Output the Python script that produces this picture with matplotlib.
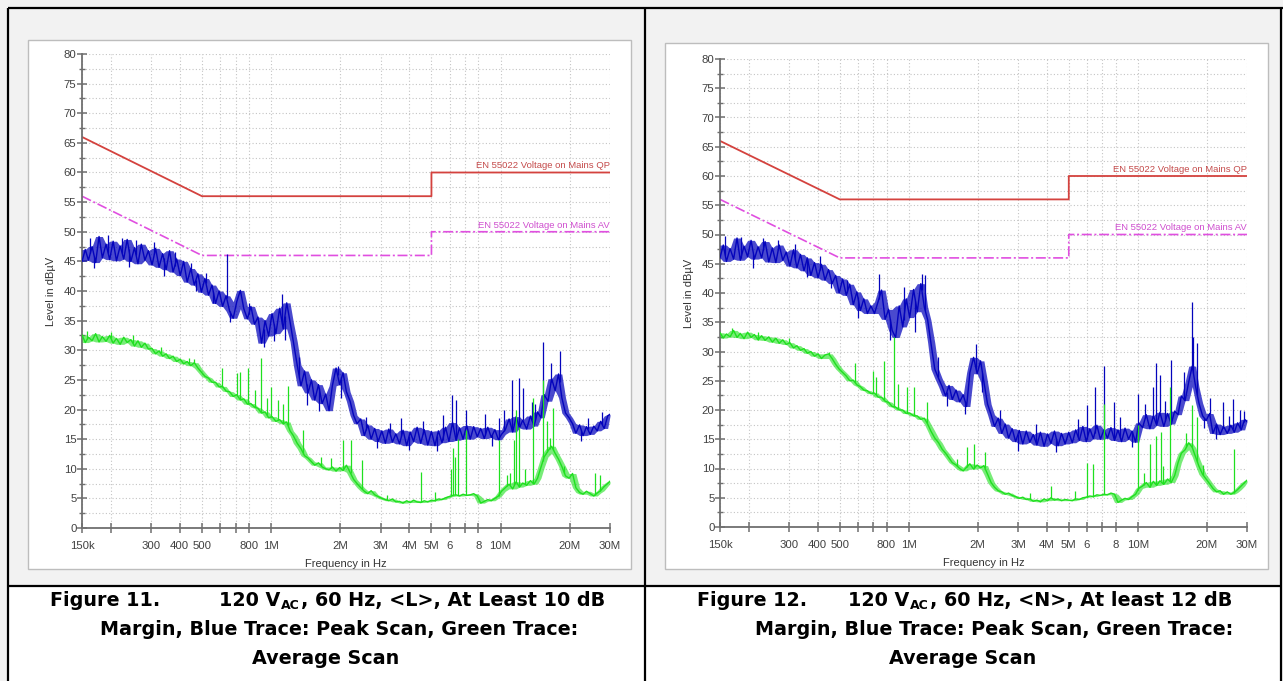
import numpy as np
import matplotlib.pyplot as plt
from matplotlib.patches import Rectangle
from matplotlib.ticker import MultipleLocator, NullLocator, FixedLocator, FixedFormatter

W, H = 1283, 681

# receiver sweep points in MHz (same for both scans)
FREQ_MHZ = [
    0.150, 0.155, 0.160, 0.166, 0.172, 0.178, 0.184, 0.191, 0.198, 0.205,
    0.212, 0.220, 0.228, 0.236, 0.245, 0.254, 0.263, 0.272, 0.282, 0.292,
    0.303, 0.314, 0.325, 0.337, 0.349, 0.361, 0.374, 0.388, 0.402, 0.416,
    0.431, 0.447, 0.463, 0.480, 0.497, 0.515, 0.534, 0.553, 0.573, 0.594,
    0.615, 0.637, 0.660, 0.684, 0.709, 0.735, 0.761, 0.789, 0.817, 0.847,
    0.877, 0.909, 0.942, 0.976, 1.01, 1.05, 1.09, 1.13, 1.17, 1.21,
    1.25, 1.30, 1.35, 1.40, 1.45, 1.50, 1.55, 1.61, 1.67, 1.73,
    1.79, 1.85, 1.92, 1.99, 2.06, 2.13, 2.21, 2.29, 2.37, 2.46,
    2.55, 2.64, 2.73, 2.83, 2.93, 3.04, 3.15, 3.26, 3.38, 3.50,
    3.63, 3.76, 3.90, 4.04, 4.18, 4.33, 4.49, 4.65, 4.82, 5.00,
    5.18, 5.36, 5.56, 5.76, 5.96, 6.18, 6.40, 6.63, 6.87, 7.12,
    7.38, 7.64, 7.92, 8.20, 8.50, 8.80, 9.12, 9.45, 9.79, 10.1,
    10.5, 10.9, 11.3, 11.7, 12.1, 12.5, 13.0, 13.5, 14.0, 14.5,
    15.0, 15.5, 16.1, 16.7, 17.3, 17.9, 18.5, 19.2, 19.9, 20.6,
    21.3, 22.1, 22.9, 23.7, 24.6, 25.5, 26.4, 27.3, 28.3, 29.3,
    30.0,
]

# EN 55022 class B limits
LIMIT_FREQ = [0.15, 0.5, 5.0, 5.0, 30.0]
QP_LIMIT = [66, 56, 56, 60, 60]
AV_LIMIT = [56, 46, 46, 50, 50]

# line L, peak detector (dBuV)
L_PEAK = [
    45.0, 47.0, 45.2, 47.5, 44.8, 49.2, 45.6, 47.9, 45.3, 48.4,
    45.1, 47.6, 45.4, 48.7, 45.0, 47.3, 44.6, 47.9, 45.2, 46.8,
    44.4, 47.2, 44.0, 46.3, 43.6, 46.8, 43.2, 45.4, 42.6, 45.0,
    41.5, 43.8, 41.0, 42.9, 39.8, 42.1, 39.3, 41.0, 37.9, 40.0,
    37.4, 39.2, 36.6, 35.4, 38.2, 40.1, 37.0, 35.3, 37.4, 34.4,
    35.6, 31.2, 35.0, 32.4, 36.2, 32.8, 37.1, 33.6, 38.0, 34.8,
    31.5, 27.5, 24.0, 26.5, 22.8, 25.0, 21.6, 24.2, 21.0, 22.6,
    19.8, 24.0, 27.0, 24.2, 26.2, 23.0, 21.4, 19.0, 17.6, 18.4,
    15.6, 17.4, 15.0, 16.8, 14.6, 16.4, 14.3, 16.7, 14.5, 15.9,
    14.2, 16.5, 13.9, 16.2, 14.6, 17.0, 14.3, 16.6, 14.0, 16.3,
    13.9, 16.4, 14.4, 17.0, 14.6, 17.8, 14.8, 16.9, 15.0, 17.3,
    15.0, 17.1, 15.4, 16.8, 15.1, 17.0, 15.3, 16.6, 14.9, 15.8,
    16.6, 18.4, 16.2, 18.8, 16.9, 18.2, 16.7, 18.9, 17.2, 19.6,
    18.6, 22.5, 21.4, 25.2, 23.2, 26.0, 22.0, 19.4, 18.6, 17.6,
    16.0, 17.4, 15.6, 17.1, 15.8, 17.2, 16.4, 18.0, 16.8, 18.9,
    19.2,
]
# narrow excursions of the L peak scan (up and down)
L_PEAK_SPIKE_F = [0.64, 1.12, 3.7, 6.15, 6.4, 7.1, 9.8, 11.2, 12.0, 12.5, 13.7, 15.3, 16.6, 18.1,
                  0.163, 0.195, 0.224, 0.258, 0.17, 0.24, 0.31, 0.34, 0.38, 0.45,
                  0.47, 0.52, 0.56, 0.66, 0.80, 0.93, 1.03, 1.15, 1.33, 1.43,
                  1.62, 1.95, 2.02, 2.60, 2.90, 3.30, 4.00, 4.60, 5.30, 5.60,
                  8.60, 9.20, 10.4, 14.2, 22.5, 24.0, 27.6]
L_PEAK_SPIKE_DB = [46.3, 39.5, 18.6, 22.4, 21.6, 19.9, 18.6, 25.0, 25.3, 23.6, 21.3, 31.4, 27.8, 29.8,
                   49.0, 49.5, 49.0, 48.6, 43.8, 44.0, 48.2, 42.5, 46.5, 44.8,
                   40.0, 43.0, 38.0, 34.8, 38.0, 30.5, 31.5, 31.8, 28.8, 20.8,
                   19.8, 27.4, 22.0, 18.8, 13.5, 17.8, 13.2, 18.0, 13.0, 19.0,
                   19.2, 13.8, 20.0, 21.0, 14.6, 18.5, 19.5]

# line L, average detector (dBuV)
L_AVG = [
    32.6, 31.3, 32.2, 31.6, 32.8, 31.4, 32.3, 31.5, 32.5, 31.2,
    32.0, 31.0, 32.2, 31.3, 31.8, 30.7, 31.6, 30.5, 31.2, 30.2,
    30.3, 29.4, 29.9, 29.0, 29.4, 28.6, 29.0, 28.1, 28.5, 27.7,
    28.1, 27.4, 27.9, 27.0, 26.3, 25.6, 25.3, 24.6, 24.6, 23.8,
    23.9, 23.1, 23.0, 22.2, 22.5, 21.6, 21.8, 20.9, 21.0, 20.4,
    20.2, 19.4, 19.6, 18.6, 18.8, 18.0, 18.3, 17.6, 17.9, 16.4,
    15.6, 14.3, 13.4, 12.2, 11.8, 11.2, 10.6, 11.0, 10.3, 10.0,
    9.8, 10.3, 9.6, 10.2, 9.7, 10.6, 9.4, 8.2, 7.5, 6.8,
    6.2, 5.8, 6.3, 5.6, 5.3, 5.0, 4.8, 4.6, 4.9, 4.4,
    4.5, 4.2, 4.6, 4.3, 4.7, 4.4, 4.3, 4.6, 4.4, 4.7,
    4.6, 4.9, 4.8, 5.1, 5.3, 5.5, 5.6, 5.4, 5.7, 5.5,
    5.6, 5.8, 5.4, 4.2, 4.5, 4.8, 4.6, 5.0, 5.4, 6.2,
    6.8, 7.4, 6.6, 7.8, 6.9, 7.6, 7.2, 8.0, 7.4, 8.4,
    10.2, 12.0, 13.0, 13.8, 12.6, 11.6, 10.4, 8.8, 8.4, 9.2,
    6.8, 6.0, 5.7, 6.2, 5.8, 5.4, 5.9, 6.3, 7.0, 7.5,
    7.9,
]
L_AVG_SPIKE_F = [0.61, 0.71, 0.73, 0.79, 0.85, 0.90, 0.96, 1.0, 1.07, 1.13,
                 1.19, 1.38, 1.83, 2.05, 2.22, 2.5, 4.5, 6.1, 6.2, 6.35,
                 6.5, 7.1, 9.8, 11.0, 11.5, 11.7, 12.0, 13.8, 15.3, 16.0,
                 17.0, 25.8, 27.0,
                 0.158, 0.20, 0.25, 0.33, 0.44, 0.46, 1.65, 3.20, 5.20, 10.7,
                 12.8, 16.4, 19.0]
L_AVG_SPIKE_DB = [27.0, 26.1, 26.3, 27.0, 23.3, 28.7, 21.9, 23.8, 21.6, 21.0,
                  24.0, 16.5, 11.8, 14.9, 14.9, 11.5, 9.5, 10.0, 13.5, 12.0,
                  15.0, 16.5, 14.9, 9.3, 14.9, 20.0, 17.0, 22.0, 25.0, 18.0,
                  20.2, 9.3, 9.0,
                  33.2, 33.0, 32.6, 30.6, 28.7, 28.6, 12.0, 5.6, 6.0, 9.0,
                  10.0, 15.2, 10.5]

# line N, peak detector (dBuV)
N_PEAK = [
    46.0, 48.2, 45.4, 47.6, 45.8, 49.4, 45.6, 48.0, 46.2, 49.0,
    45.8, 47.9, 46.0, 48.8, 45.3, 47.7, 45.2, 48.2, 45.6, 47.0,
    44.6, 47.4, 44.3, 46.6, 43.8, 46.0, 43.0, 45.2, 42.6, 44.9,
    42.2, 44.0, 41.6, 43.0, 40.0, 42.4, 39.6, 41.5, 38.0, 40.2,
    37.0, 39.0, 36.5, 37.8, 36.5, 38.5, 40.5, 35.5, 37.2, 33.6,
    32.4, 37.8, 34.2, 39.0, 35.8, 40.6, 36.8, 41.6, 37.6, 35.4,
    31.5, 27.0, 25.4, 24.0, 22.4, 24.2, 21.8, 23.4, 21.4, 22.6,
    20.6, 26.4, 29.0, 26.2, 28.4, 24.8, 21.0, 19.2, 17.2, 18.6,
    16.0, 17.6, 15.2, 16.8, 14.6, 16.5, 14.2, 16.4, 14.5, 15.8,
    14.0, 16.2, 13.8, 15.9, 14.3, 16.4, 13.9, 16.0, 14.2, 16.2,
    14.4, 16.6, 14.8, 17.2, 14.6, 16.8, 15.1, 17.4, 15.0, 16.6,
    15.2, 17.0, 14.8, 16.6, 14.6, 16.9, 15.0, 16.4, 14.5, 17.8,
    17.0, 19.2, 16.8, 19.0, 17.4, 19.6, 17.2, 19.4, 17.6, 19.8,
    19.2, 22.4, 21.6, 24.8, 27.5, 24.0, 21.2, 19.0, 18.2, 19.4,
    16.0, 17.6, 15.8, 17.2, 16.0, 17.4, 16.2, 17.8, 16.6, 18.4,
    18.0,
]
N_PEAK_SPIKE_F = [0.74, 1.14, 6.0, 6.5, 7.1, 7.9, 10.0, 11.7, 12.0, 12.5,
                  14.0, 17.2, 17.5, 18.2, 20.6, 23.5, 26.0, 28.0,
                  0.158, 0.185, 0.21, 0.232, 0.27, 0.32, 0.36, 0.41, 0.46, 0.54,
                  0.60, 0.83, 0.95, 1.07, 1.18, 1.34, 1.47, 1.76, 1.97, 2.10,
                  2.50, 3.00, 3.60, 4.40, 5.50, 8.40, 9.40, 10.8, 13.2, 16.0,
                  19.5, 22.0, 25.0, 29.0]
N_PEAK_SPIKE_DB = [43.3, 43.3, 20.8, 24.0, 27.6, 21.4, 22.7, 24.0, 28.0, 26.0,
                   28.6, 38.4, 32.5, 31.5, 22.0, 21.4, 21.8, 20.0,
                   49.8, 49.6, 44.2, 49.4, 49.0, 48.3, 42.8, 46.4, 40.8, 42.2,
                   35.8, 32.0, 41.0, 33.4, 43.0, 29.0, 20.6, 19.4, 31.2, 23.0,
                   20.0, 13.0, 17.6, 12.9, 18.4, 18.8, 13.6, 21.0, 21.5, 26.5,
                   17.0, 15.0, 19.0, 19.8]

# line N, average detector (dBuV)
N_AVG = [
    33.2, 32.3, 33.0, 32.5, 33.6, 32.4, 33.1, 32.2, 33.3, 32.4,
    32.9, 32.0, 32.7, 31.9, 32.5, 31.6, 32.3, 31.4, 32.0, 31.2,
    31.5, 30.6, 31.0, 30.2, 30.5, 29.7, 30.0, 29.2, 29.6, 28.8,
    29.4, 29.6, 28.8, 27.8, 27.0, 26.4, 25.8, 25.0, 25.1, 24.3,
    24.0, 23.4, 23.3, 22.8, 22.9, 22.2, 22.2, 21.5, 21.3, 20.6,
    20.5, 20.0, 20.0, 19.4, 19.5, 19.0, 19.0, 18.4, 18.6, 17.6,
    16.4, 15.2, 14.4, 13.3, 12.6, 11.8, 11.0, 10.6, 10.0, 9.6,
    10.2, 10.8, 9.9, 10.6, 10.1, 10.5, 9.0, 7.6, 6.8, 6.2,
    6.0, 5.6, 5.8, 5.4, 5.2, 4.9, 5.1, 4.7, 4.8, 4.4,
    4.6, 4.3, 4.8, 4.5, 5.0, 4.6, 4.8, 4.5, 4.7, 4.6,
    4.5, 4.8, 4.7, 5.0, 5.1, 5.3, 5.2, 5.5, 5.4, 5.6,
    5.5, 5.8, 5.6, 4.2, 4.6, 4.9, 4.7, 5.2, 5.6, 6.6,
    7.0, 7.6, 6.8, 7.8, 7.1, 7.9, 7.3, 8.2, 7.6, 8.8,
    11.0, 12.6, 13.2, 14.4, 13.6, 12.0, 10.4, 9.0, 8.2, 7.4,
    6.6, 6.0, 6.2, 5.6, 6.0, 5.6, 5.9, 6.4, 7.0, 7.6,
    8.0,
]
N_AVG_SPIKE_F = [0.58, 0.70, 0.72, 0.78, 0.86, 0.90, 0.98, 1.05, 1.20, 1.80,
                 1.93, 2.15, 4.2, 6.0, 6.4, 7.1, 10.0, 11.3, 12.0, 12.6,
                 13.8, 17.3, 18.2, 26.3,
                 0.17, 0.22, 0.30, 0.45, 1.62, 3.40, 5.30, 10.6, 12.9, 16.3,
                 19.3]
N_AVG_SPIKE_DB = [28.0, 26.7, 25.7, 28.3, 32.5, 24.4, 24.0, 24.0, 21.4, 13.6,
                  14.2, 12.9, 7.0, 11.0, 10.7, 21.1, 17.5, 14.2, 15.5, 16.2,
                  24.0, 20.8, 18.8, 13.3,
                  34.0, 33.4, 32.3, 30.0, 11.6, 5.8, 6.1, 9.2, 10.4, 16.0,
                  10.6]

XTICKS = [0.15, 0.2, 0.3, 0.4, 0.5, 0.6, 0.7, 0.8, 1, 2, 3, 4, 5, 6, 7, 8, 10, 20, 30]
XLABELS = ['150k', '', '300', '400', '500', '', '', '800', '1M', '2M', '3M',
           '4M', '5M', '6', '', '8', '10M', '20M', '30M']

BLUE = '#0404bc'
GREEN = '#1fe01f'
QP_COLOR = '#d4423e'
AV_COLOR = '#e04fe0'
AXIS_GRAY = '#6f6f6f'
FONT = 'Liberation Sans'
CAP_FONT = 'DejaVu Sans'

fig = plt.figure(figsize=(W / 100, H / 100), dpi=100, facecolor='#f2f2f2')

# page background: frame, caption cells, screenshot panels (pixel coordinates)
bg = fig.add_axes([0, 0, 1, 1])
bg.set_xlim(0, W)
bg.set_ylim(H, 0)
bg.axis('off')
bg.add_patch(Rectangle((8, 586), 1273, 95, facecolor='white', edgecolor='none'))
bg.add_patch(Rectangle((28, 40), 603, 529, facecolor='white', edgecolor='#bdbdbd', lw=1.0))
bg.add_patch(Rectangle((665, 43), 603, 526, facecolor='white', edgecolor='#bdbdbd', lw=1.0))
for xs, ys in [([8, W], [8, 8]), ([8, 1281], [586, 586]), ([8, 8], [8, H]),
               ([645, 645], [8, H]), ([1281, 1281], [8, H])]:
    bg.plot(xs, ys, color='black', lw=1.6, solid_capstyle='butt')


def px_axes(x0, y0, x1, y1):
    return fig.add_axes([x0 / W, 1 - y1 / H, (x1 - x0) / W, (y1 - y0) / H])


def spread(levels):
    # lowest / highest reading among neighbouring sweep points
    v = np.asarray(levels, dtype=float)
    pad = np.r_[v[0], v, v[-1]]
    trio = np.vstack([pad[:-2], pad[1:-1], pad[2:]])
    return trio.min(axis=0), trio.max(axis=0)


def draw_scan(ax, f, levels, spike_f, spike_db, color, z, haze):
    lo, hi = spread(levels)
    ax.fill_between(f, lo, hi, color=color, alpha=haze, lw=0, zorder=z)
    ax.plot(f, levels, color=color, lw=1.0, zorder=z)
    base = np.interp(np.log10(spike_f), np.log10(f), levels)
    ax.vlines(spike_f, base, spike_db, color=color, lw=0.9, zorder=z)


def draw_panel(ax, peak, avg, pk_f, pk_db, av_f, av_db):
    f = np.array(FREQ_MHZ)
    ax.set_facecolor('none')
    ax.set_xscale('log')
    ax.set_xlim(0.15, 30)
    ax.set_ylim(0, 80)

    ax.xaxis.set_major_locator(FixedLocator(XTICKS))
    ax.xaxis.set_major_formatter(FixedFormatter(XLABELS))
    ax.xaxis.set_minor_locator(NullLocator())
    ax.yaxis.set_major_locator(MultipleLocator(5))
    ax.yaxis.set_minor_locator(MultipleLocator(2.5))

    for side in ['top', 'right']:
        ax.spines[side].set_visible(False)
    for side in ['left', 'bottom']:
        ax.spines[side].set_color(AXIS_GRAY)
        ax.spines[side].set_linewidth(1.3)
    ax.tick_params(which='major', direction='inout', length=7, width=1.1, color=AXIS_GRAY,
                   labelsize=8.2, labelcolor='#404040')
    ax.tick_params(axis='y', which='minor', direction='inout', length=5, width=1.0,
                   color=AXIS_GRAY)
    ax.tick_params(axis='y', which='major', pad=0.5)
    ax.tick_params(axis='x', which='major', pad=6)
    for lab in ax.get_xticklabels() + ax.get_yticklabels():
        lab.set_family(FONT)

    ax.grid(True, axis='y', which='both', color='#c4c4c4', lw=0.8, ls=(0, (1, 2)))
    ax.grid(True, axis='x', which='major', color='#c4c4c4', lw=0.8, ls=(0, (1, 2)))
    ax.set_axisbelow(True)

    ax.plot(LIMIT_FREQ, QP_LIMIT, color=QP_COLOR, lw=1.3, zorder=2)
    ax.plot(LIMIT_FREQ, AV_LIMIT, color=AV_COLOR, lw=1.2, dashes=(6, 1.6, 1.2, 1.6), zorder=2)
    ax.annotate('EN 55022 Voltage on Mains QP', xy=(30, QP_LIMIT[-1]), xytext=(0, 1.5),
                textcoords='offset points', ha='right', va='bottom',
                fontsize=6.8, color='#c44a4a', family=FONT)
    ax.annotate('EN 55022 Voltage on Mains AV', xy=(30, AV_LIMIT[-1]), xytext=(0, 1.5),
                textcoords='offset points', ha='right', va='bottom',
                fontsize=6.8, color='#cf4fcf', family=FONT)

    draw_scan(ax, f, peak, pk_f, pk_db, BLUE, 3, 0.72)   # peak scan
    draw_scan(ax, f, avg, av_f, av_db, GREEN, 4, 0.6)    # average scan

    ax.text(-0.058, 0.5, 'Level in dBµV', rotation=90, ha='center', va='center',
            transform=ax.transAxes, fontsize=8, color='#333333', family=FONT)
    ax.text(0.5, -0.066, 'Frequency in Hz', ha='center', va='top',
            transform=ax.transAxes, fontsize=8, color='#333333', family=FONT)


ax_l = px_axes(82, 54, 610, 528)
draw_panel(ax_l, L_PEAK, L_AVG, L_PEAK_SPIKE_F, L_PEAK_SPIKE_DB, L_AVG_SPIKE_F, L_AVG_SPIKE_DB)
ax_n = px_axes(720, 59, 1247, 527)
draw_panel(ax_n, N_PEAK, N_AVG, N_PEAK_SPIKE_F, N_PEAK_SPIKE_DB, N_AVG_SPIKE_F, N_AVG_SPIKE_DB)

# captions, written run by run so that the subscript sits inline
renderer = fig.canvas.get_renderer()
CAP_SIZE = 13.8
SUB_SIZE = 9.0


def caption(x, y, runs, align='left'):
    items = []
    for txt, size, dy in runs:
        t = bg.text(0, y + dy, txt, fontsize=size, fontweight='bold', family=CAP_FONT,
                    va='baseline', ha='left', color='black')
        items.append(t)
    widths = [t.get_window_extent(renderer).width for t in items]
    total = sum(widths)
    if align == 'right':
        x = x - total
    elif align == 'center':
        x = x - total / 2
    for t, w in zip(items, widths):
        t.set_x(x)
        x += w + 1


caption(50, 606, [('Figure 11.', CAP_SIZE, 0)])
caption(603, 606, [('120 V', CAP_SIZE, 0), ('AC', SUB_SIZE, 3),
                   (', 60 Hz, <L>, At Least 10 dB', CAP_SIZE, 0)], align='right')
caption(100, 635, [('Margin, Blue Trace: Peak Scan, Green Trace:', CAP_SIZE, 0)])
caption(326, 664, [('Average Scan', CAP_SIZE, 0)], align='center')

caption(697, 606, [('Figure 12.', CAP_SIZE, 0)])
caption(1230, 606, [('120 V', CAP_SIZE, 0), ('AC', SUB_SIZE, 3),
                    (', 60 Hz, <N>, At least 12 dB', CAP_SIZE, 0)], align='right')
caption(1233, 635, [('Margin, Blue Trace: Peak Scan, Green Trace:', CAP_SIZE, 0)], align='right')
caption(963, 664, [('Average Scan', CAP_SIZE, 0)], align='center')

fig.savefig('out.png', dpi=100, facecolor=fig.get_facecolor())
